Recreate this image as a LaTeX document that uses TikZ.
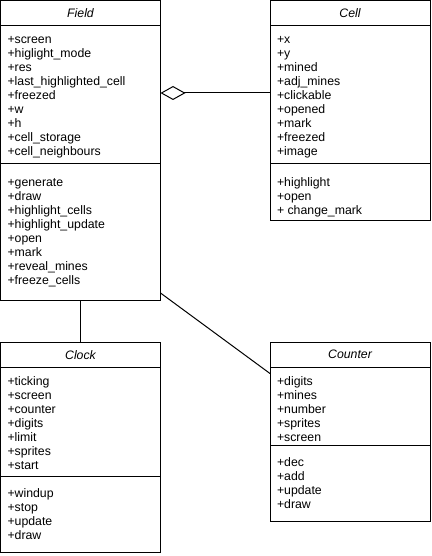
\documentclass[tikz,border=0pt]{standalone}
\usepackage{fontspec}
\setmainfont{Liberation Sans}
\usepackage{tikz}
\usetikzlibrary{arrows.meta}

\begin{document}
\begin{tikzpicture}[x=1pt, y=1pt, line width=1pt,
		every node/.style={font=\fontsize{12.3}{14}\selectfont, outer sep=0pt},
		umlhead/.style={draw, anchor=north west, minimum width=160pt, minimum height=25.5pt, inner sep=0pt, font=\fontsize{12.3}{14}\selectfont\itshape},
		umlpart/.style 2 args={draw, anchor=north west, inner xsep=7pt, inner ysep=0pt,
			execute at begin node={\begin{minipage}[t][#1][t]{146pt}\rule{0pt}{#2}},
			execute at end node={\end{minipage}}}]
		\useasboundingbox (0,0) rectangle (431,-556);
		
		% Field class
		\node[umlhead] (fieldhead) at (0.5,-0.5) {Field};
		\node[umlpart={138pt}{17.5pt}] (fieldattr) at (fieldhead.south west) {+screen\\+higlight\_mode\\+res\\+last\_highlighted\_cell\\+freezed\\+w\\+h\\+cell\_storage\\+cell\_neighbours};
		\node[umlpart={136pt}{22pt}] (fieldops) at (fieldattr.south west) {+generate\\+draw\\+highlight\_cells\\+highlight\_update\\+open\\+mark\\+reveal\_mines\\+freeze\_cells};
		
		% Cell class
		\node[umlhead] (cellhead) at (270,-0.5) {Cell};
		\node[umlpart={138pt}{17.5pt}] (cellattr) at (cellhead.south west) {+x\\+y\\+mined\\+adj\_mines\\+clickable\\+opened\\+mark\\+freezed\\+image};
		\node[umlpart={56pt}{22pt}] (cellops) at (cellattr.south west) {+highlight\\+open\\+ change\_mark};
		
		% Clock class
		\node[umlhead] (clockhead) at (0.5,-342) {Clock};
		\node[umlpart={109pt}{17.5pt}] (clockattr) at (clockhead.south west) {+ticking\\+screen\\+counter\\+digits\\+limit\\+sprites\\+start};
		\node[umlpart={76pt}{20.5pt}] (clockops) at (clockattr.south west) {+windup\\+stop\\+update\\+draw};
		
		% Counter class
		\node[umlhead] (counterhead) at (270,-342) {Counter};
		\node[umlpart={78pt}{17.5pt}] (counterattr) at (counterhead.south west) {+digits\\+mines\\+number\\+sprites\\+screen};
		\node[umlpart={76pt}{21pt}] (counterops) at (counterattr.south west) {+dec\\+add\\+update\\+draw};
		
		% Associations
		\draw[-{Diamond[open, length=25pt, width=14pt]}] ([yshift=2pt]cellattr.west) -- ([yshift=2pt]fieldattr.east);
		\draw (fieldops.south) -- (clockhead.north);
		\draw ([yshift=7pt]fieldops.south east) -- ([yshift=-6pt]counterattr.north west);
	\end{tikzpicture}
\end{document}
